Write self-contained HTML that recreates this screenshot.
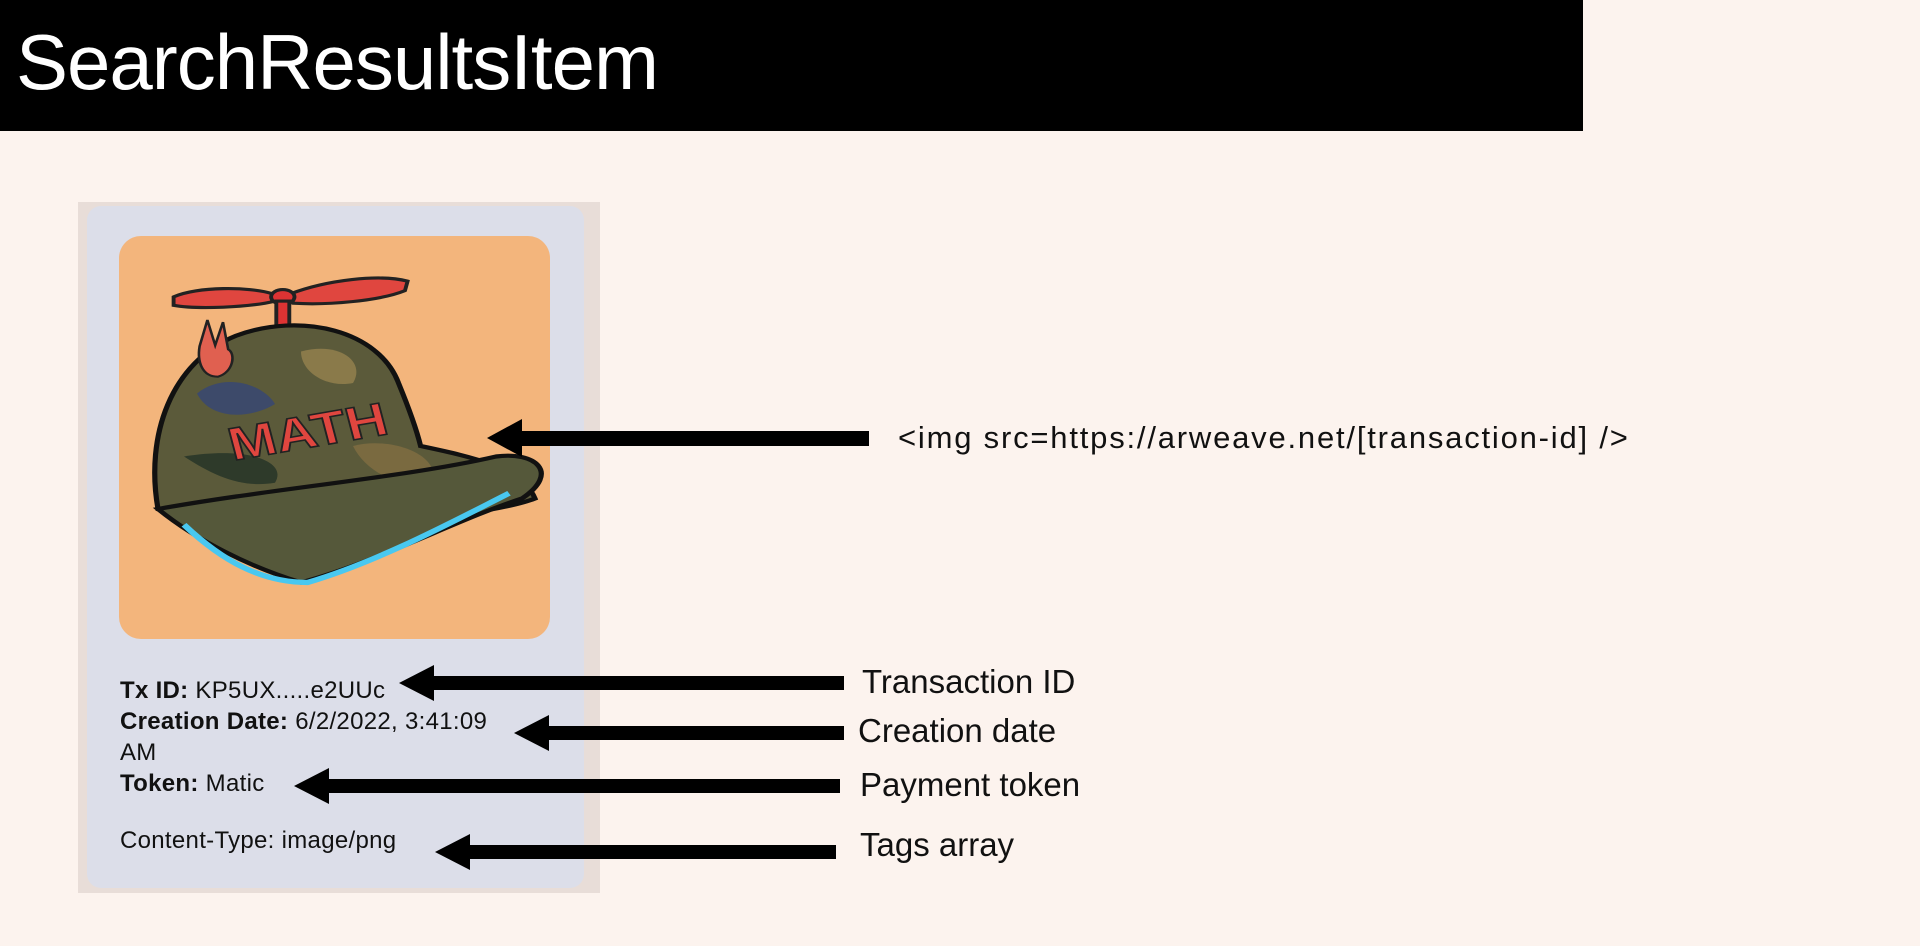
<!DOCTYPE html>
<html><head><meta charset="utf-8"><style>
html,body{margin:0;padding:0;width:1920px;height:946px;overflow:hidden;background:#fcf3ee;font-family:"Liberation Sans",sans-serif;position:relative}
.abs{position:absolute}
.bar{left:0;top:0;width:1583px;height:131px;background:#000}
.title{left:16px;top:18px;color:#fff;font-size:78px;line-height:88px;letter-spacing:-1px}
.outer{left:78px;top:202px;width:522px;height:691px;background:#e8ddd8}
.card{left:87px;top:206px;width:497px;height:682px;background:#dcdee9;border-radius:14px}
.img{left:119px;top:236px;width:431px;height:403px;background:#f3b57c;border-radius:22px;overflow:hidden}
.t{font-size:24px;color:#111;line-height:30px;left:120px;white-space:nowrap;letter-spacing:0.3px}
.lab{font-size:33px;color:#111;line-height:36px;white-space:nowrap}
</style></head><body>
<div class="abs bar"></div>
<div class="abs title">SearchResultsItem</div>
<div class="abs outer"></div>
<div class="abs card"></div>
<div class="abs img">
<svg width="431" height="403" viewBox="0 0 431 403">
<g transform="translate(0,0) scale(1.3,1.05)">
 <path d="M42 58 C60 48,100 48,118 55 L120 62 C100 68,60 70,42 66 Z" fill="#e0463f" stroke="#222" stroke-width="3"/>
 <path d="M132 55 C160 42,200 36,222 43 L220 52 C200 62,160 66,134 64 Z" fill="#e0463f" stroke="#222" stroke-width="3"/>
 <ellipse cx="126" cy="58" rx="9" ry="7" fill="#d33" stroke="#222" stroke-width="3"/>
 <rect x="121" y="62" width="10" height="34" fill="#d33" stroke="#222" stroke-width="3"/>
 <path d="M30 260 C20 190,40 120,90 95 C140 72,200 90,215 140 C225 170,230 190,232 200 C270 210,310 220,320 250 C300 260,240 270,200 275 C160 280,100 265,30 260 Z" fill="#5b5a3a" stroke="#111" stroke-width="4"/>
 <path d="M60 150 C80 130,110 140,120 160 C100 175,70 175,60 150Z" fill="#3d4a6a"/>
 <path d="M140 110 C170 100,190 120,180 140 C160 145,140 130,140 110Z" fill="#8a7a4a"/>
 <path d="M50 210 C100 200,130 215,120 235 C95 240,75 230,50 210Z" fill="#2e3a2a"/>
 <path d="M180 200 C210 190,250 210,240 235 C215 240,190 225,180 200Z" fill="#7a6a40"/>
 <path d="M30 260 C120 240,220 230,290 210 C320 205,340 225,310 250 C260 270,200 310,140 330 C100 315,60 290,30 260Z" fill="#55583a" stroke="#111" stroke-width="4"/>
 <path d="M50 275 C80 310,110 330,145 330 C200 310,260 270,300 245" fill="none" stroke="#49c8f0" stroke-width="5"/>
 <text x="80" y="200" font-family="Liberation Sans" font-weight="bold" font-size="44" fill="#e0463f" stroke="#222" stroke-width="1.5" transform="rotate(-12 150 170)">MATH</text>
 <path d="M62 105 L68 80 L74 104 L80 82 L84 108 C90 112,88 130,76 134 C64 134,60 120,62 105Z" fill="#e06050" stroke="#222" stroke-width="2"/>
</g>
</svg>
</div>
<div class="abs t" style="top:676px"><b>Tx ID:</b> KP5UX.....e2UUc</div>
<div class="abs t" style="top:707px"><b>Creation Date:</b> 6/2/2022, 3:41:09</div>
<div class="abs t" style="top:738px">AM</div>
<div class="abs t" style="top:769px"><b>Token:</b> Matic</div>
<div class="abs t" style="top:826px">Content-Type: image/png</div>
<svg class="abs" style="left:0;top:0" width="1920" height="946">
 <g fill="#000">
  <rect x="515" y="431" width="354" height="15"/><polygon points="487,438 522,419 522,457"/>
  <rect x="425" y="676" width="419" height="14"/><polygon points="399,683 434,665 434,701"/>
  <rect x="540" y="726" width="304" height="14"/><polygon points="514,733 549,715 549,751"/>
  <rect x="320" y="779" width="520" height="14"/><polygon points="294,786 329,768 329,804"/>
  <rect x="461" y="845" width="375" height="14"/><polygon points="435,852 470,834 470,870"/>
 </g>
</svg>
<div class="abs lab" style="left:898px;top:420px;font-size:31px;letter-spacing:1.8px">&lt;img src=https://arweave.net/[transaction-id] /&gt;</div>
<div class="abs lab" style="left:862px;top:664px">Transaction ID</div>
<div class="abs lab" style="left:858px;top:713px">Creation date</div>
<div class="abs lab" style="left:860px;top:767px">Payment token</div>
<div class="abs lab" style="left:860px;top:827px">Tags array</div>
</body></html>
